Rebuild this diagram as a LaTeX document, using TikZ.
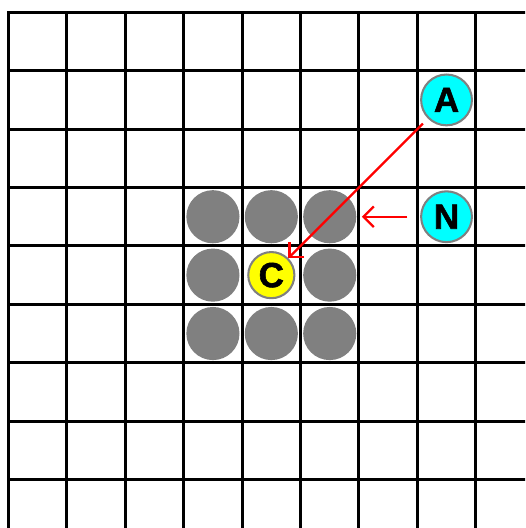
\documentclass[tikz,border=0pt]{standalone}
\usepackage{fontspec}
\setmainfont{Liberation Sans}
\newfontfamily\tokenfont[FakeBold=1.6]{Liberation Sans Bold}
\usetikzlibrary{arrows.meta}
\definecolor{boardCyan}{RGB}{0,255,255}
\definecolor{boardYellow}{RGB}{255,255,0}
\definecolor{boardGray}{RGB}{128,128,128}
\definecolor{boardRed}{RGB}{255,0,0}

\begin{document}
\begin{tikzpicture}[x=1cm,y=-1cm,
  token/.style={circle,draw=boardGray,line width=1pt,inner sep=0pt,minimum size=0.87cm,font=\fontsize{17}{17}\selectfont\tokenfont},
  blocked/.style={circle,fill=boardGray,inner sep=0pt,minimum size=0.91cm},
  move/.style={-{Straight Barb[length=5pt,width=10pt]},draw=boardRed,line width=1.1pt}]
\clip (-0.146,-0.211) rectangle (8.844,8.83);
% board
\foreach \k in {0,...,8} {
  \draw[line width=1.5pt,line cap=rect] (0,\k) -- (9.5,\k);
  \draw[line width=1.5pt,line cap=rect] (\k,0) -- (\k,9.5);
}
% cells around C
\foreach \i in {3,4,5} {
  \foreach \j in {3,4,5} {
    \ifnum\i=4 \ifnum\j=4 \else \node[blocked] (g\i\j) at (\i+0.5,\j+0.5) {}; \fi
    \else \node[blocked] (g\i\j) at (\i+0.5,\j+0.5) {}; \fi
  }
}
\node[token,fill=boardYellow,minimum size=0.79cm] (C) at (4.5,4.5) {C};
\node[token,fill=boardCyan] (A) at (7.5,1.5) {A};
\node[token,fill=boardCyan] (N) at (7.5,3.5) {N};
\draw[move,shorten <=0.12cm] (A) -- (C);
\draw[move,shorten <=0.22cm,shorten >=0.09cm] (N) -- (g53);
\end{tikzpicture}
\end{document}
